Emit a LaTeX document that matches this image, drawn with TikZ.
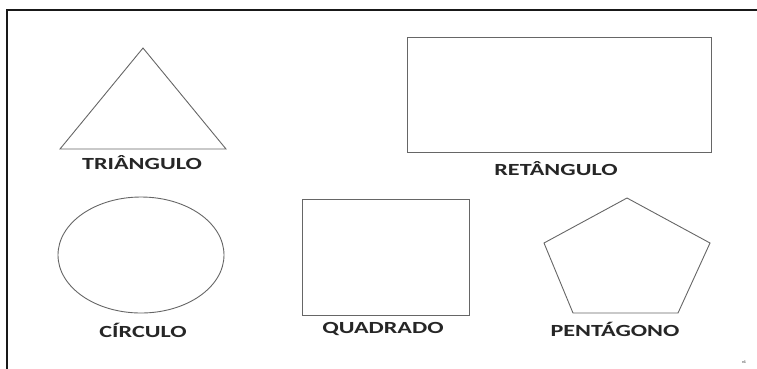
\documentclass[tikz,border=0pt]{standalone}
\usepackage{fontspec}
\usepackage{graphicx}
\setmainfont{Carlito}
\begin{document}
\begin{tikzpicture}[x=1pt,y=-1pt,
  shapeline/.style={draw=black!60, line width=0.9pt},
  label/.style={inner sep=0pt, text=black!85, font=\fontsize{17}{17}\selectfont\bfseries},
  framel/.style={draw=black!90, line width=2.6pt}]
\useasboundingbox (0,0) rectangle (757,368);
\begin{scope}
\clip (0,0) rectangle (757,368);
\coordinate (fc) at (7,10);
\coordinate (fr) at (770,10);
\coordinate (fb) at (7,380);
\draw[framel] (fb) -- (fc) -- (fr);
\end{scope}
% triangle
\coordinate (t1) at (143,48);
\coordinate (t2) at (226,149);
\coordinate (t3) at (60,149);
\draw[shapeline, line join=miter] (t1) -- (t2) -- (t3) -- cycle;
\node[label] (ltri) at (142,163) {\scalebox{1.42}[1]{TRIÂNGULO}};
% rectangle
\node[shapeline, rectangle, minimum width=304pt, minimum height=115pt, inner sep=0pt] (rect) at (559,94.5) {};
\node[label] (lret) at (556,169) {\scalebox{1.42}[1]{RETÂNGULO}};
% circle (ellipse)
\draw[shapeline] (141,255) ellipse [x radius=83, y radius=58];
\node[label] (lcir) at (143,330) {\scalebox{1.42}[1]{CÍRCULO}};
% square
\node[shapeline, rectangle, minimum width=167pt, minimum height=116pt, inner sep=0pt] (sq) at (385.5,257) {};
\node[label] (lqua) at (383,329) {\scalebox{1.42}[1]{QUADRADO}};
% pentagon
\coordinate (p1) at (627,198);
\coordinate (p2) at (710,243);
\coordinate (p3) at (678,313);
\coordinate (p4) at (573,313);
\coordinate (p5) at (544,243);
\draw[shapeline] (p1) -- (p2) -- (p3) -- (p4) -- (p5) -- cycle;
\node[label] (lpen) at (615,329) {\scalebox{1.42}[1]{PENTÁGONO}};
% version mark
\node[inner sep=0pt, font=\fontsize{4}{4}\selectfont\bfseries, text=black!70] (ver) at (744,362) {v1};
\end{tikzpicture}
\end{document}
